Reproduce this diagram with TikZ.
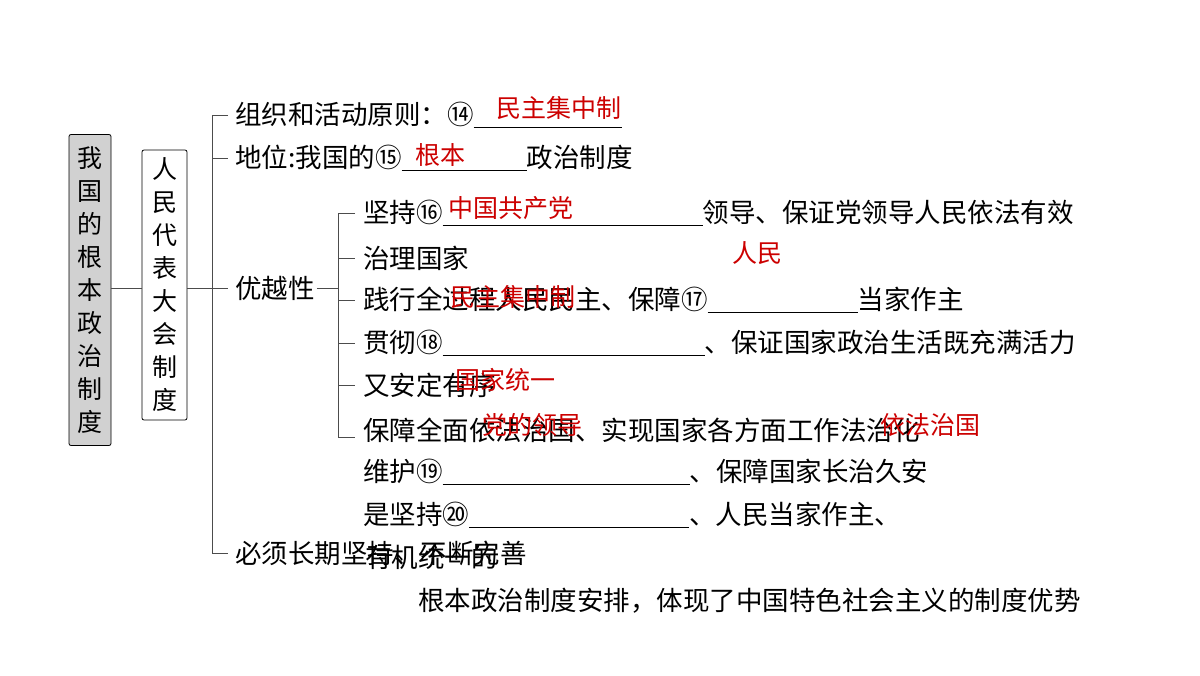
\documentclass[tikz,border=0pt]{standalone}
\usepackage{fontspec}
\setmainfont{Noto Sans CJK SC}
\newfontfamily\cjk{Noto Sans CJK SC}
\begin{document}
\begin{tikzpicture}[x=1pt,y=-1pt,
  t/.style={anchor=west,inner sep=0pt,font=\fontsize{26.5}{28}\selectfont,text=black},
  r/.style={anchor=west,inner sep=0pt,font=\fontsize{25}{26}\selectfont,text=red!80!black},
  ln/.style={draw=black!70,line width=0.8pt},
  vbox/.style={draw=black,line width=0.8pt,rounded corners=2pt,align=center,inner sep=0pt,font=\fontsize{25}{33}\selectfont}]
\useasboundingbox[fill=white] (0,0) rectangle (1200,676);
\newcommand{\bl}[1]{\rule[-4pt]{#1pt}{0.8pt}}
\node[vbox,fill=black!18,minimum width=42pt,minimum height=311pt] (b1) at (90,290) {我\\国\\的\\根\\本\\政\\治\\制\\度};
\node[vbox,fill=white,minimum width=45pt,minimum height=270pt] (b2) at (164.5,285) {人\\民\\代\\表\\大\\会\\制\\度};
\coordinate (j1) at (212,288);
\draw[ln] (b1.east |- 0,288) -- (b2.west |- 0,288);
\draw[ln] (b2.east |- 0,288) -- (j1);
\draw[ln] (228,115) -- (212,115) -- (212,553) -- (228,553);
\draw[ln] (212,158) -- (228,158);
\draw[ln] (212,288) -- (228,288);
\node[t] (n1) at (235,115) {组织和活动原则：⑭\bl{148}};
\node[t] (n2) at (235,158) {地位:我国的⑮\bl{125}政治制度};
\node[t] (n3) at (235,288) {优越性};
\coordinate (j2) at (338,288);
\draw[ln] (n3.east) ++(2,0) -- (j2);
\draw[ln] (355,213) -- (338,213) -- (338,437) -- (355,437);
\foreach \y in {258,300,343,385} \draw[ln] (338,\y) -- (355,\y);
\node[t] (a1) at (363,213) {坚持⑯\bl{260}领导、保证党领导人民依法有效};
\node[t] (a2) at (363,258) {治理国家};
\node[t] (a3) at (363,300) {践行全过程人民民主、保障⑰\bl{150}当家作主};
\node[t] (a4) at (363,343) {贯彻⑱\bl{262}、保证国家政治生活既充满活力};
\node[t] (a5) at (363,385) {又安定有序};
\node[t] (a6) at (363,430) {保障全面依法治国、实现国家各方面工作法治化};
\node[t] (a7) at (363,472) {维护⑲\bl{247}、保障国家长治久安};
\node[t] (a8) at (363,515) {是坚持⑳\bl{220}、人民当家作主、};
\node[t] (n4) at (235,553) {必须长期坚持、不断完善};
\node[t] (a9) at (365,557) {有机统一的};
\node[t] (a10) at (418,601) {根本政治制度安排，体现了中国特色社会主义的制度优势};
\node[r] at (496,108) {民主集中制};
\node[r] at (415,155) {根本};
\node[r] at (448,208) {中国共产党};
\node[r] at (732,253) {人民};
\node[r] at (450,297) {民主集中制};
\node[r] at (455,380) {国家统一};
\node[r] at (482,425) {党的领导};
\node[r] at (880,425) {依法治国};
\end{tikzpicture}
\end{document}
